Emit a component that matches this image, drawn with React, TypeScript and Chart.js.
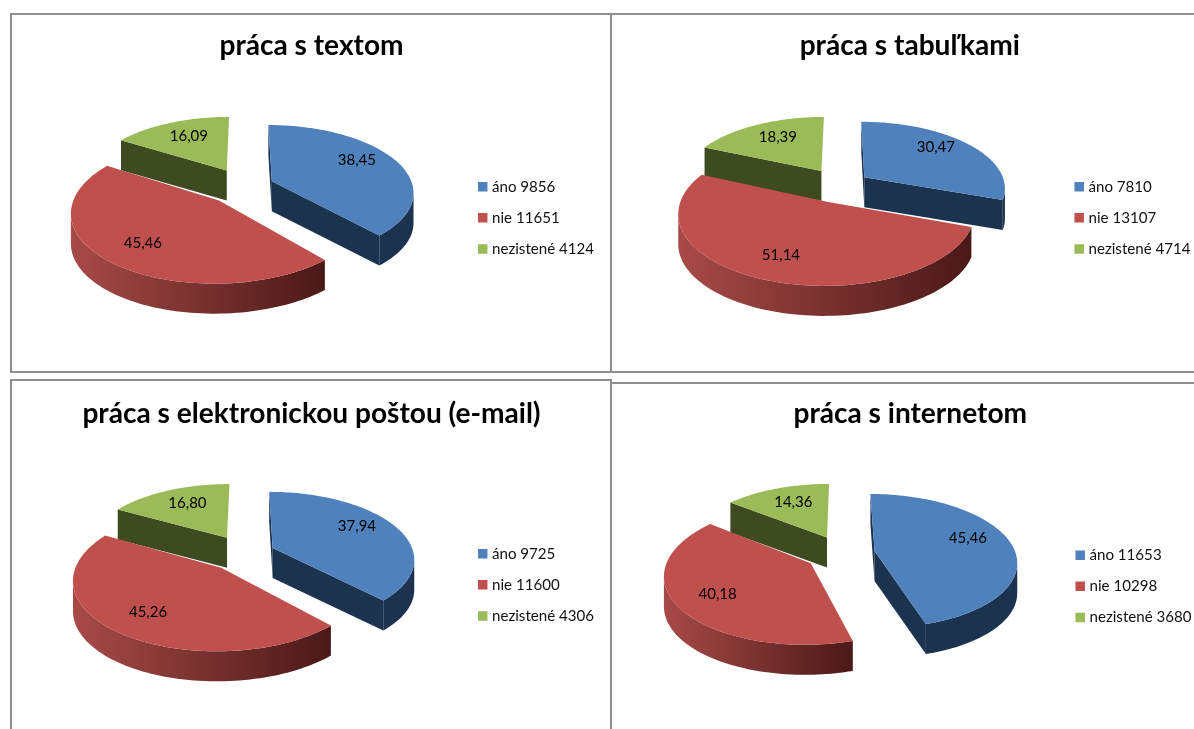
import React, { useEffect, useRef } from "react";
import { Chart, PieController, registerables } from "chart.js";

// ---- data ----
const categories = ["áno", "nie", "nezistené"];
const titles = [
  "práca s textom",
  "práca s tabuľkami",
  "práca s elektronickou poštou (e-mail)",
  "práca s internetom",
];
const countsText = [9856, 11651, 4124];
const countsTables = [7810, 13107, 4714];
const countsMail = [9725, 11600, 4306];
const countsInternet = [11653, 10298, 3680];
const percentText = [38.45, 45.46, 16.09];
const percentTables = [30.47, 51.14, 18.39];
const percentMail = [37.94, 45.26, 16.8];
const percentInternet = [45.46, 40.18, 14.36];

// ---- styling ----
const topColors = ["#4f81bd", "#c0504d", "#9bbb59"];
const sideColors = [
  ["#1c3350", "#1c3350"],
  ["#a84a47", "#4a1917"],
  ["#3e4a20", "#3e4a20"],
];
const labelNudge = [
  [-2, -6],
  [-2, 2],
  [3, 0],
];
const FONT = "Lato, Carlito, 'Open Sans', sans-serif";
const RADIUS = 141;
const TILT = 0.468;
const PERSPECTIVE = 0.15;
const DEPTH = 30;

const panels = [
  { title: titles[0], counts: countsText, percent: percentText, left: 10, top: 13, w: 606, h: 360, fw: 602, fh: 360, titleTop: 16, center: [235, 173], offsets: [29, 39, 39], legendRight: 12 },
  { title: titles[1], counts: countsTables, percent: percentTables, left: 610, top: 13, w: 602, h: 360, fw: 598, fh: 360, titleTop: 16, center: [231, 172], offsets: [29, 37, 37], legendRight: 11.5 },
  { title: titles[2], counts: countsMail, percent: percentMail, left: 10, top: 379, w: 606, h: 360, fw: 602, fh: 370, titleTop: 18, center: [236, 174], offsets: [29, 39, 39], legendRight: 12 },
  { title: titles[3], counts: countsInternet, percent: percentInternet, left: 610, top: 382, w: 604, h: 360, fw: 600, fh: 370, titleTop: 15, center: [233, 171], offsets: [32, 38, 38], legendRight: 12.5 },
];

class Pie3DController extends PieController {
  static id = "pie3d";
  draw() {
    const chart: any = this.chart;
    const ctx = chart.ctx;
    const meta: any = this._cachedMeta;
    const view = chart.options.plugins.pie3d;
    const [cx, cy] = view.center;
    const project = (dx: number, dy: number, R: number) => {
      const s = 1 / (1 - (PERSPECTIVE * dy) / R);
      return [cx + dx * s, cy + TILT * dy * s];
    };
    const items = meta.data.map((arc: any, i: number) => {
      const R = arc.outerRadius;
      const mid = (arc.startAngle + arc.endAngle) / 2;
      const off = arc.options.offset || 0;
      const ox = off * Math.cos(mid);
      const oy = off * Math.sin(mid);
      const steps = 96;
      const rim: number[][] = [];
      for (let k = 0; k <= steps; k++) {
        const t = arc.startAngle + ((arc.endAngle - arc.startAngle) * k) / steps;
        rim.push(project(ox + R * Math.cos(t), oy + R * Math.sin(t), R));
      }
      return { arc, i, R, mid, ox, oy, rim, apex: project(ox, oy, R) };
    });
    items.sort((a: any, b: any) => Math.sin(a.mid) - Math.sin(b.mid));

    const quad = (pts: number[][], fill: any) => {
      ctx.beginPath();
      pts.forEach((p, n) => (n ? ctx.lineTo(p[0], p[1]) : ctx.moveTo(p[0], p[1])));
      for (let n = pts.length - 1; n >= 0; n--) ctx.lineTo(pts[n][0], pts[n][1] + DEPTH);
      ctx.closePath();
      ctx.fillStyle = fill;
      ctx.fill();
    };

    items.forEach((it: any) => {
      const side = sideColors[it.i];
      const { rim, apex, arc } = it;
      const first = rim[0];
      const last = rim[rim.length - 1];
      // cut walls: shown only where the edge clearly runs right-to-left along the outline
      if (apex[0] - first[0] > 2.5) quad([apex, first], side[1]);
      if (last[0] - apex[0] > 2.5) quad([last, apex], side[1]);
      // outer wall
      const xs = rim.map((p: number[]) => p[0]);
      const g = ctx.createLinearGradient(Math.min(...xs), 0, Math.max(...xs), 0);
      g.addColorStop(0, side[0]);
      g.addColorStop(1, side[1]);
      let run: number[][] = [];
      const flush = () => {
        if (run.length > 1) quad(run, g);
        run = [];
      };
      for (let k = 1; k < rim.length; k++) {
        if (rim[k][0] < rim[k - 1][0]) {
          if (!run.length) run.push(rim[k - 1]);
          run.push(rim[k]);
        } else flush();
      }
      flush();
      // top face
      ctx.beginPath();
      ctx.moveTo(apex[0], apex[1]);
      rim.forEach((p: number[]) => ctx.lineTo(p[0], p[1]));
      ctx.closePath();
      ctx.fillStyle = arc.options.backgroundColor;
      ctx.fill();
    });

    // value labels
    ctx.font = `15px ${FONT}`;
    ctx.fillStyle = "#000";
    ctx.textAlign = "center";
    ctx.textBaseline = "middle";
    const data = chart.data.datasets[this.index].data;
    items.forEach((it: any) => {
      const f = view.labelAt;
      const p = project(it.ox + it.R * f * Math.cos(it.mid), it.oy + it.R * f * Math.sin(it.mid), it.R);
      const n = labelNudge[it.i];
      ctx.fillText(data[it.i].toFixed(2).replace(".", ","), p[0] + n[0], p[1] + n[1]);
    });
  }
}

Chart.register(...registerables, Pie3DController);

function Panel({ p }: { p: (typeof panels)[number] }) {
  const ref = useRef<HTMLCanvasElement | null>(null);
  useEffect(() => {
    const chart = new Chart(ref.current as HTMLCanvasElement, {
      type: "pie3d" as any,
      data: {
        labels: categories.map((c, i) => `${c} ${p.counts[i]}`),
        datasets: [
          {
            data: p.percent,
            backgroundColor: topColors,
            borderWidth: 0,
            offset: p.offsets,
            radius: RADIUS,
            pointStyle: "rect",
          } as any,
        ],
      },
      options: {
        animation: false,
        responsive: false,
        layout: { padding: { left: 9, right: p.legendRight } },
        plugins: {
          pie3d: { center: p.center, labelAt: 0.7 },
          tooltip: { enabled: false },
          title: {
            display: true,
            text: p.title,
            color: "#000",
            font: { family: FONT, size: 28.1, weight: "bold" },
            padding: { top: p.titleTop, bottom: 0 },
          },
          legend: {
            display: true,
            position: "right",
            fullSize: false,
            labels: {
              usePointStyle: true,
              pointStyle: "rect",
              boxWidth: 3.5,
              boxHeight: 9.5,
              color: "#111",
              font: { family: FONT, size: 15.1 },
              padding: 16,
            },
          },
        } as any,
      },
    } as any);
    return () => chart.destroy();
  }, [p]);
  return (
    <canvas
      ref={ref}
      width={p.w}
      height={p.h}
      style={{ position: "absolute", left: p.left, top: p.top, width: p.w, height: p.h, display: "block" }}
    />
  );
}

export default function App() {
  return (
    <div style={{ position: "fixed", left: 0, top: 0, width: 1194, height: 729, overflow: "hidden", background: "#fff" }}>
      {panels.map((p) => (
        <React.Fragment key={p.title}>
          <Panel p={p} />
          <div
            style={{
              position: "absolute",
              left: p.left,
              top: p.top,
              width: p.fw,
              height: p.fh,
              boxSizing: "border-box",
              border: "2px solid #8e8e8e",
              pointerEvents: "none",
            }}
          />
        </React.Fragment>
      ))}
    </div>
  );
}
